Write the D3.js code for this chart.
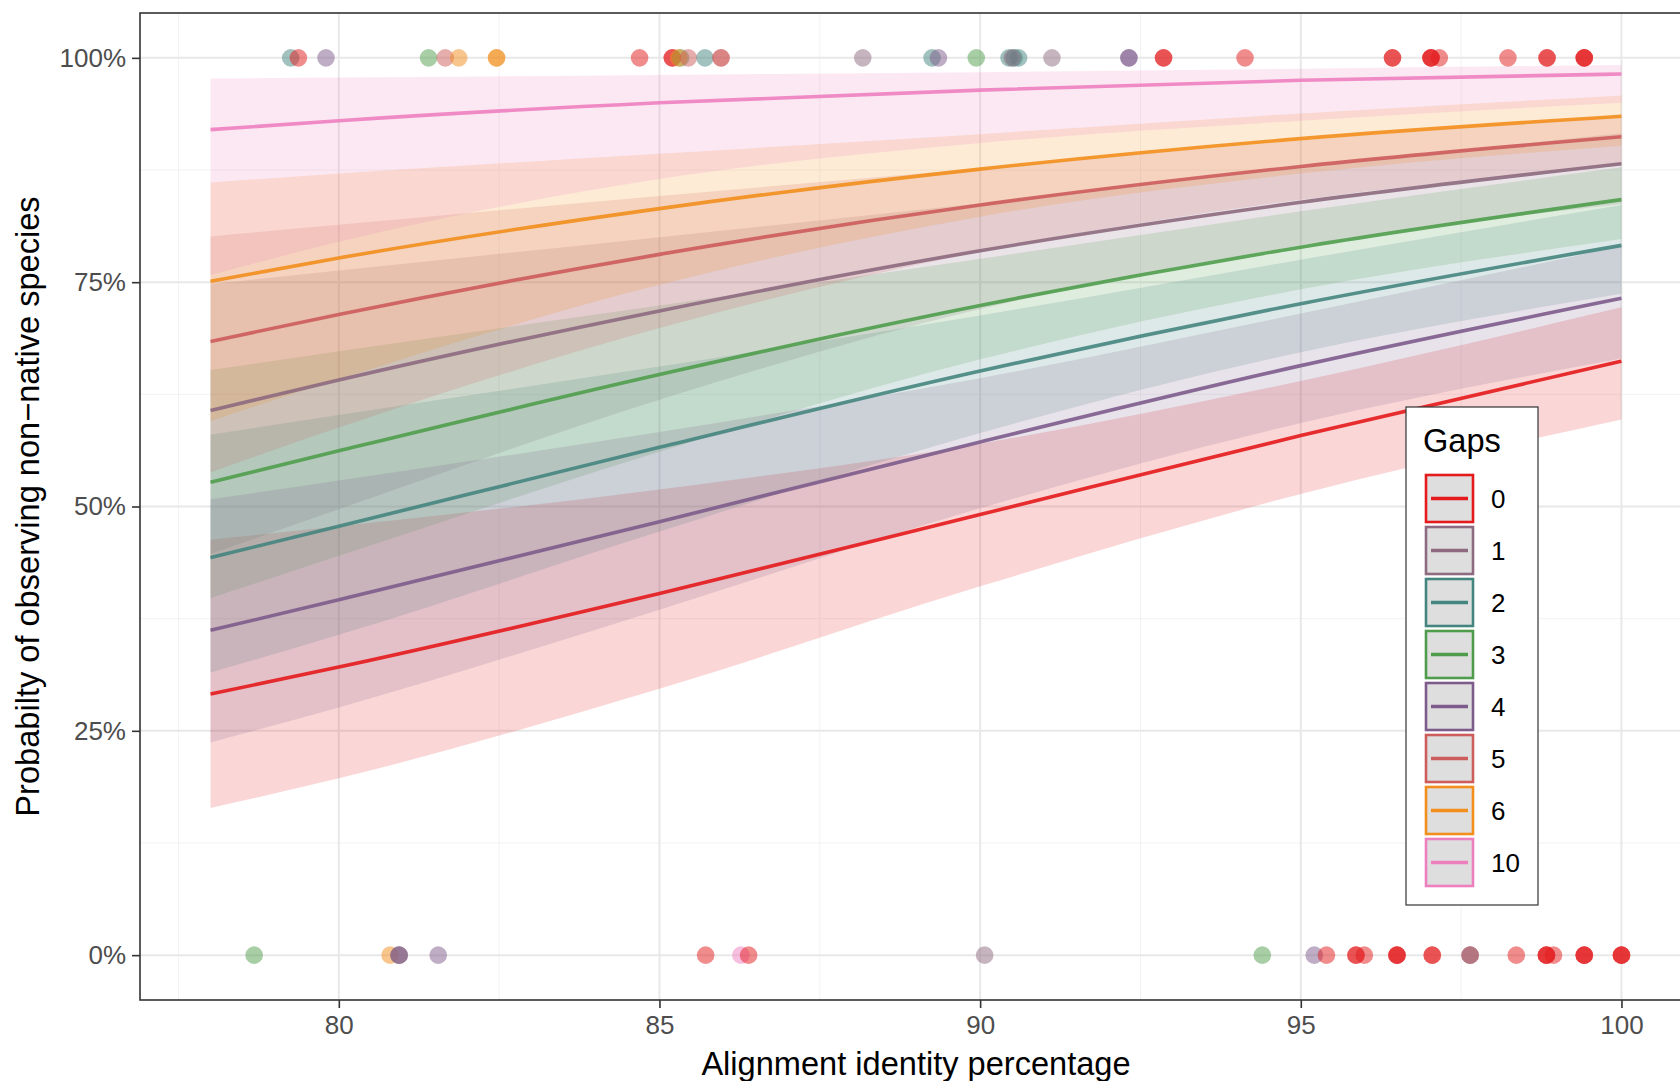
<!DOCTYPE html>
<html>
<head>
<meta charset="utf-8">
<script src="https://cdn.jsdelivr.net/npm/d3@7"></script>
<style>
  body { margin: 0; background: #fff; }
  svg { display: block; font-family: "Liberation Sans", Arial, Helvetica, sans-serif; }
</style>
</head>
<body>
<div id="chart"></div>
<script>
// Gap levels and fitted curves (probability vs. alignment identity)
const gapLevels = ["0", "1", "2", "3", "4", "5", "6", "10"];
const identityGrid = [78, 80, 85, 90, 95, 100];

// fitted probability per gap level, at identityGrid
const fitLines = [
  [0.291, 0.321, 0.403, 0.491, 0.579, 0.662],
  [0.607, 0.641, 0.718, 0.785, 0.839, 0.882],
  [0.443, 0.478, 0.566, 0.651, 0.726, 0.791],
  [0.527, 0.562, 0.647, 0.724, 0.789, 0.842],
  [0.362, 0.396, 0.483, 0.572, 0.657, 0.732],
  [0.684, 0.714, 0.781, 0.836, 0.879, 0.912],
  [0.751, 0.777, 0.832, 0.876, 0.910, 0.935],
  [0.920, 0.930, 0.950, 0.964, 0.975, 0.982]
];
// lower / upper confidence band
const ribbonLow = [
  [0.164, 0.197, 0.297, 0.411, 0.514, 0.597],
  [0.447, 0.497, 0.619, 0.720, 0.791, 0.837],
  [0.315, 0.357, 0.472, 0.582, 0.672, 0.737],
  [0.398, 0.445, 0.561, 0.664, 0.742, 0.798],
  [0.237, 0.276, 0.385, 0.498, 0.593, 0.665],
  [0.538, 0.588, 0.699, 0.784, 0.842, 0.880],
  [0.595, 0.642, 0.747, 0.823, 0.871, 0.902],
  [0.758, 0.795, 0.865, 0.905, 0.930, 0.950]
];
const ribbonHigh = [
  [0.463, 0.478, 0.519, 0.570, 0.640, 0.722],
  [0.748, 0.763, 0.800, 0.838, 0.878, 0.916],
  [0.580, 0.602, 0.656, 0.713, 0.775, 0.836],
  [0.652, 0.673, 0.724, 0.776, 0.829, 0.878],
  [0.508, 0.529, 0.583, 0.643, 0.715, 0.790],
  [0.801, 0.814, 0.846, 0.877, 0.908, 0.936],
  [0.861, 0.871, 0.893, 0.915, 0.938, 0.958],
  [0.977, 0.978, 0.981, 0.984, 0.988, 0.992]
];

// observed alignments: identity, outcome (0/1), gap level
const obsIdentity = [
  79.25, 79.37, 79.80, 81.40, 81.66, 81.87, 82.46, 82.46, 84.69, 85.20, 85.20,
  85.33, 85.30, 85.45, 85.71, 85.96, 85.96, 88.17, 89.25, 89.35, 89.94,
  90.45, 90.53, 90.60, 90.50, 91.12, 92.32, 92.32, 92.86, 92.86, 94.13,
  96.43, 96.43, 97.03, 97.03, 97.03, 97.16, 98.23, 98.84, 98.84, 99.42, 99.42, 99.42,
  78.68, 80.80, 80.94, 80.94, 80.94, 81.55, 85.72, 86.27, 86.39, 90.07, 94.40,
  95.21, 95.40, 95.86, 95.86, 95.99, 96.50, 96.50, 96.50, 97.05, 97.05,
  97.64, 97.64, 97.64, 98.36, 98.83, 98.83, 98.83, 98.94, 99.42, 99.42, 99.42,
  100.0, 100.0, 100.0
];
const obsOutcome = [
  1, 1, 1, 1, 1, 1, 1, 1, 1, 1, 1,
  1, 1, 1, 1, 1, 1, 1, 1, 1, 1,
  1, 1, 1, 1, 1, 1, 1, 1, 1, 1,
  1, 1, 1, 1, 1, 1, 1, 1, 1, 1, 1, 1,
  0, 0, 0, 0, 0, 0, 0, 0, 0, 0, 0,
  0, 0, 0, 0, 0, 0, 0, 0, 0, 0,
  0, 0, 0, 0, 0, 0, 0, 0, 0, 0, 0,
  0, 0, 0
];
const obsGap = [
  "2", "0", "4", "3", "5", "6", "6", "6", "0", "0", "0",
  "3", "6", "5", "2", "5", "5", "1", "2", "4", "3",
  "2", "2", "2", "1", "1", "4", "4", "0", "0", "0",
  "0", "0", "0", "0", "0", "0", "0", "0", "0", "0", "0", "0",
  "3", "6", "4", "4", "1", "4", "0", "10", "0", "1", "3",
  "4", "0", "0", "0", "0", "0", "0", "0", "0", "0",
  "5", "5", "1", "0", "0", "0", "0", "0", "0", "0", "0",
  "0", "0", "0"
];

const xTicks = [80, 85, 90, 95, 100];
const yTicks = [0, 0.25, 0.5, 0.75, 1];

const width = 1680;
const height = 1081;
const margin = { left: 140, top: 13 };
const panelW = 1552;   // runs past the right edge, as in the source image
const panelH = 987;

const color = d3.scaleOrdinal()
  .domain(gapLevels)
  .range(["#e41a1c", "#8d6a80", "#45857f", "#4f9d4c", "#7d5c8c", "#cd5c5c", "#f28e1c", "#ee7fbf"]);

const x = d3.scaleLinear().domain([76.9, 101.1]).range([margin.left, margin.left + panelW]);
const y = d3.scaleLinear().domain([-0.05, 1.05]).range([margin.top + panelH, margin.top]);

const svg = d3.select("#chart").append("svg")
  .attr("width", width)
  .attr("height", height);

svg.append("clipPath").attr("id", "panel-clip")
  .append("rect")
  .attr("x", margin.left).attr("y", margin.top)
  .attr("width", panelW).attr("height", panelH);

// grid
const grid = svg.append("g");
const xMinor = [77.5, 82.5, 87.5, 92.5, 97.5];
const yMinor = [0.125, 0.375, 0.625, 0.875];
grid.selectAll(".vminor").data(xMinor).enter().append("line")
  .attr("x1", d => x(d)).attr("x2", d => x(d))
  .attr("y1", margin.top).attr("y2", margin.top + panelH)
  .attr("stroke", "#f2f2f2").attr("stroke-width", 1);
grid.selectAll(".hminor").data(yMinor).enter().append("line")
  .attr("x1", margin.left).attr("x2", margin.left + panelW)
  .attr("y1", d => y(d)).attr("y2", d => y(d))
  .attr("stroke", "#f2f2f2").attr("stroke-width", 1);
grid.selectAll(".vmajor").data(xTicks).enter().append("line")
  .attr("x1", d => x(d)).attr("x2", d => x(d))
  .attr("y1", margin.top).attr("y2", margin.top + panelH)
  .attr("stroke", "#e8e8e8").attr("stroke-width", 2);
grid.selectAll(".hmajor").data(yTicks).enter().append("line")
  .attr("x1", margin.left).attr("x2", margin.left + panelW)
  .attr("y1", d => y(d)).attr("y2", d => y(d))
  .attr("stroke", "#e8e8e8").attr("stroke-width", 2);

const plot = svg.append("g").attr("clip-path", "url(#panel-clip)");

// ribbons
const area = d3.area()
  .x(d => x(d.x))
  .y0(d => y(d.lo))
  .y1(d => y(d.hi))
  .curve(d3.curveMonotoneX);

gapLevels.forEach((g, i) => {
  const rows = identityGrid.map((v, j) => ({ x: v, lo: ribbonLow[i][j], hi: ribbonHigh[i][j] }));
  plot.append("path")
    .attr("d", area(rows))
    .attr("fill", color(g))
    .attr("fill-opacity", 0.18);
});

// fitted lines
const line = d3.line()
  .x(d => x(d.x))
  .y(d => y(d.p))
  .curve(d3.curveMonotoneX);

gapLevels.forEach((g, i) => {
  const rows = identityGrid.map((v, j) => ({ x: v, p: fitLines[i][j] }));
  plot.append("path")
    .attr("d", line(rows))
    .attr("fill", "none")
    .attr("stroke", color(g))
    .attr("stroke-opacity", 0.9)
    .attr("stroke-width", 3.6);
});

// observed points
const obs = obsIdentity.map((v, i) => ({ x: v, p: obsOutcome[i], gap: obsGap[i] }));
plot.selectAll(".pt").data(obs).enter().append("circle")
  .attr("cx", d => x(d.x))
  .attr("cy", d => y(d.p))
  .attr("r", 8.8)
  .attr("fill", d => color(d.gap))
  .attr("fill-opacity", 0.5);

// panel border
svg.append("rect")
  .attr("x", margin.left).attr("y", margin.top)
  .attr("width", panelW).attr("height", panelH)
  .attr("fill", "none")
  .attr("stroke", "#333333")
  .attr("stroke-width", 1.6);

// axes
const xAxis = svg.append("g")
  .attr("transform", `translate(0,${margin.top + panelH})`)
  .call(d3.axisBottom(x).tickValues(xTicks).tickSize(8).tickPadding(8).tickFormat(d3.format("d")));
const yAxis = svg.append("g")
  .attr("transform", `translate(${margin.left},0)`)
  .call(d3.axisLeft(y).tickValues(yTicks).tickSize(8).tickPadding(6).tickFormat(d3.format(".0%")));

[xAxis, yAxis].forEach(a => {
  a.select(".domain").remove();
  a.selectAll(".tick line").attr("stroke", "#333333").attr("stroke-width", 1.6);
  a.selectAll(".tick text")
    .attr("fill", "#4d4d4d")
    .style("font-size", "26px")
    .style("font-family", "'Liberation Sans', Arial, sans-serif");
});

svg.append("text")
  .attr("x", margin.left + panelW / 2)
  .attr("y", 1075)
  .attr("text-anchor", "middle")
  .style("font-size", "32.6px")
  .attr("fill", "#000")
  .text("Alignment identity percentage");

svg.append("text")
  .attr("transform", `translate(39,${margin.top + panelH / 2}) rotate(-90)`)
  .attr("text-anchor", "middle")
  .style("font-size", "32.6px")
  .attr("fill", "#000")
  .text("Probabilty of observing non\u2212native species");

// legend
const legend = svg.append("g").attr("transform", "translate(1406,407)");
legend.append("rect")
  .attr("width", 132).attr("height", 498)
  .attr("fill", "#fff")
  .attr("stroke", "#333333")
  .attr("stroke-width", 1.2);
legend.append("text")
  .attr("x", 17).attr("y", 45)
  .style("font-size", "32.6px")
  .text("Gaps");

const keys = legend.selectAll(".key").data(gapLevels).enter().append("g")
  .attr("transform", (d, i) => `translate(20,${68 + i * 52})`);
keys.append("rect")
  .attr("x", 0).attr("y", 0)
  .attr("width", 47).attr("height", 47)
  .attr("fill", "#dedede")
  .attr("stroke", d => color(d))
  .attr("stroke-width", 2.6);
keys.append("line")
  .attr("x1", 5).attr("x2", 42)
  .attr("y1", 23.5).attr("y2", 23.5)
  .attr("stroke", d => color(d))
  .attr("stroke-width", 3.6);
keys.append("text")
  .attr("x", 65).attr("y", 23.5)
  .attr("dy", "0.36em")
  .style("font-size", "26px")
  .text(d => d);
</script>
</body>
</html>
